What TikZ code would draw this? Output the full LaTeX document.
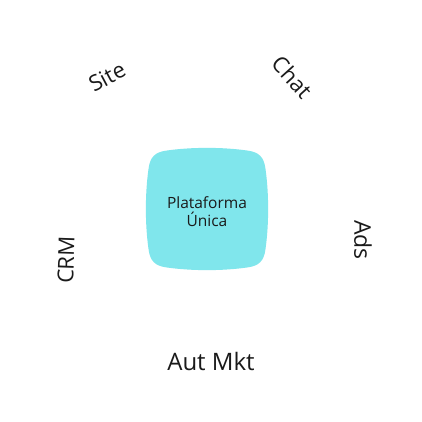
\documentclass[tikz,border=0pt]{standalone}
\usepackage{fontspec}
\setmainfont{Open Sans}
\definecolor{blob}{HTML}{80E6EC}
\definecolor{ink}{HTML}{1A1A1A}
\begin{document}
\begin{tikzpicture}[x=1pt,y=-1pt,
  lbl/.style={text=ink,font=\fontsize{22}{26}\selectfont,inner sep=0pt,anchor=center},
  core/.style={text=ink,font=\fontsize{15.5}{18}\selectfont,align=center,inner sep=0pt}]
\useasboundingbox[fill=white] (0,0) rectangle (422,422);
\fill[blob,shift={(207,209)}]
  (-40,-58.5) .. controls (-15,-62) and (15,-62) .. (40,-58.5)
  .. controls (52,-57) and (57,-52) .. (58.5,-40)
  .. controls (62,-15) and (62,15) .. (58.5,40)
  .. controls (57,52) and (52,57) .. (40,58.5)
  .. controls (15,62) and (-15,62) .. (-40,58.5)
  .. controls (-52,57) and (-57,52) .. (-58.5,40)
  .. controls (-62,15) and (-62,-15) .. (-58.5,-40)
  .. controls (-57,-52) and (-52,-57) .. (-40,-58.5) -- cycle;
\node[core] (center) at (207,212) {Plataforma\\Única};
\node[lbl,rotate=28] (site) at (107,77) {Site};
\node[lbl,rotate=-48] (chat) at (292,77) {Chat};
\node[lbl,rotate=88] (crm) at (66,260) {CRM};
\node[lbl,rotate=-90,font=\fontsize{23}{27}\selectfont] (ads) at (363,240) {Ads};
\node[lbl,font=\fontsize{24}{28}\selectfont] (aut) at (211,361) {Aut Mkt};
\end{tikzpicture}
\end{document}
